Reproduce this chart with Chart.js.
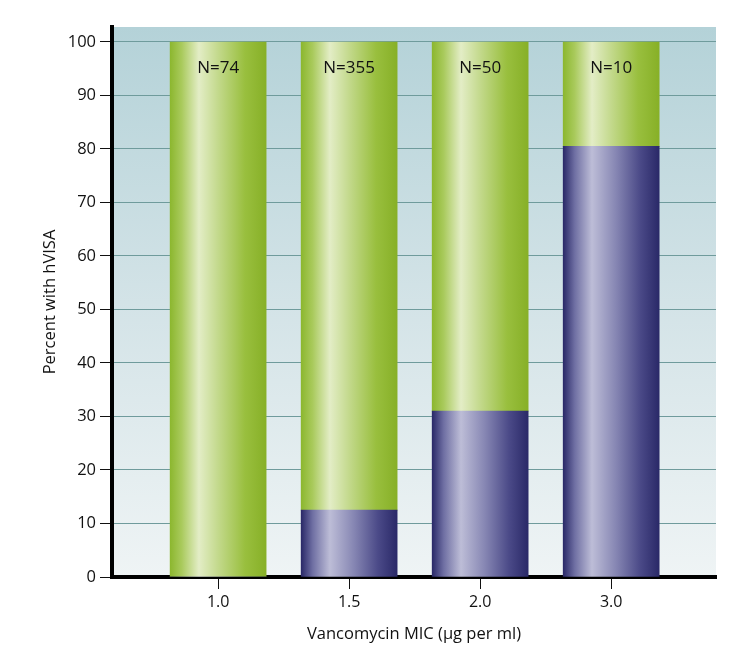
<!DOCTYPE html>
<html>
<head>
<meta charset="utf-8">
<script src="https://cdn.jsdelivr.net/npm/chart.js@4/dist/chart.umd.min.js"></script>
<style>
  html, body { margin: 0; padding: 0; background: #fff; }
  #wrap { width: 746px; height: 655px; }
</style>
</head>
<body>
<div id="wrap"><canvas id="mic_chart" width="746" height="655"></canvas></div>
<script>
// data
var mic_labels = ['1.0', '1.5', '2.0', '3.0'];
var hvisa_pct = [0, 12.5, 31, 80.5];
var non_hvisa_pct = [0, 0, 0, 0].map(function(v, i) { return 100 - hvisa_pct[i]; });
var n_labels = ['N=74', 'N=355', 'N=50', 'N=10'];
var y_ticks = [0, 10, 20, 30, 40, 50, 60, 70, 80, 90, 100];

var font_family = '"Open Sans", "Noto Sans", sans-serif';
var bar_width = 96;

var green_stops = [[0, '#8cb72f'], [0.12, '#a9ca5c'], [0.3, '#e3edc6'], [0.5, '#c3d98c'], [0.78, '#99bf3e'], [1, '#87b027']];
var blue_stops = [[0, '#2a2968'], [0.12, '#6f6fa3'], [0.3, '#bdbdd7'], [0.55, '#8686b3'], [0.8, '#4b4a88'], [1, '#2a2968']];

var make_bar_gradient = function(context, stops) {
  var chart = context.chart;
  var x_scale = chart.scales.x;
  if (!x_scale || context.dataIndex === undefined) {
    return stops[0][1];
  }
  var cx = x_scale.getPixelForValue(context.dataIndex);
  if (!isFinite(cx)) {
    return stops[0][1];
  }
  var g = chart.ctx.createLinearGradient(cx - bar_width / 2, 0, cx + bar_width / 2, 0);
  for (var i = 0; i < stops.length; i++) {
    g.addColorStop(stops[i][0], stops[i][1]);
  }
  return g;
};

// plot area background, light teal fading to white
var plot_background = {
  id: 'plot_background',
  beforeDraw: function(chart) {
    var a = chart.chartArea;
    var ctx = chart.ctx;
    var g = ctx.createLinearGradient(0, a.top, 0, a.bottom);
    g.addColorStop(0, '#b4d2d8');
    g.addColorStop(0.5, '#d3e3e7');
    g.addColorStop(1, '#eff4f5');
    ctx.save();
    ctx.fillStyle = g;
    ctx.fillRect(a.left, a.top, a.right - a.left, a.bottom - a.top);
    ctx.restore();
  }
};

// N= labels at top of each stack
var n_label_plugin = {
  id: 'n_label_plugin',
  afterDatasetsDraw: function(chart) {
    var meta = chart.getDatasetMeta(1);
    var ctx = chart.ctx;
    ctx.save();
    ctx.font = '17px ' + font_family;
    ctx.fillStyle = '#111';
    ctx.textAlign = 'center';
    ctx.textBaseline = 'middle';
    meta.data.forEach(function(bar, i) {
      ctx.fillText(n_labels[i], bar.x, bar.y + 26);
    });
    ctx.restore();
  }
};

var to_points = function(values) {
  return values.map(function(v, i) { return { x: i, y: v }; });
};

var ctx = document.getElementById('mic_chart').getContext('2d');
var mic_chart = new Chart(ctx, {
  type: 'bar',
  data: {
    datasets: [
      {
        label: 'hVISA',
        data: to_points(hvisa_pct),
        backgroundColor: function(c) { return make_bar_gradient(c, blue_stops); },
        barThickness: bar_width,
        borderWidth: 0
      },
      {
        label: 'not hVISA',
        data: to_points(non_hvisa_pct),
        backgroundColor: function(c) { return make_bar_gradient(c, green_stops); },
        barThickness: bar_width,
        borderWidth: 0
      }
    ]
  },
  options: {
    responsive: false,
    animation: false,
    layout: { padding: { top: 27, right: 30, bottom: 0, left: 0 } },
    plugins: {
      legend: { display: false },
      tooltip: { enabled: false }
    },
    scales: {
      x: {
        type: 'linear',
        stacked: true,
        offset: false,
        min: -0.81,
        max: 3.8,
        afterBuildTicks: function(scale) {
          scale.ticks = mic_labels.map(function(l, i) { return { value: i }; });
        },
        afterFit: function(scale) { scale.height = 78; },
        ticks: {
          callback: function(v) { return mic_labels[v]; },
          color: '#111',
          font: { family: font_family, size: 16 },
          padding: 4,
          maxRotation: 0
        },
        grid: { offset: false, drawOnChartArea: false, drawTicks: true, tickLength: 12, tickColor: '#111', tickWidth: 1 },
        border: { display: true, color: '#000', width: 4 },
        title: {
          display: true,
          text: 'Vancomycin MIC (μg per ml)',
          color: '#111',
          font: { family: font_family, size: 16.5 },
          padding: { top: 0, bottom: 11 }
        }
      },
      y: {
        stacked: true,
        min: 0,
        max: 102.8,
        afterBuildTicks: function(scale) {
          scale.ticks = y_ticks.map(function(v) { return { value: v }; });
        },
        afterFit: function(scale) { scale.width = 112; },
        ticks: {
          color: '#111',
          font: { family: font_family, size: 16.5 },
          padding: 4
        },
        grid: { color: '#6f9b9c', lineWidth: 1, tickLength: 12, tickColor: '#111', tickWidth: 1 },
        border: { display: true, color: '#000', width: 4 },
        title: {
          display: true,
          text: 'Percent with hVISA',
          color: '#111',
          font: { family: font_family, size: 16.5 },
          padding: { top: 40, bottom: 0 }
        }
      }
    }
  },
  plugins: [plot_background, n_label_plugin]
});
</script>
</body>
</html>
